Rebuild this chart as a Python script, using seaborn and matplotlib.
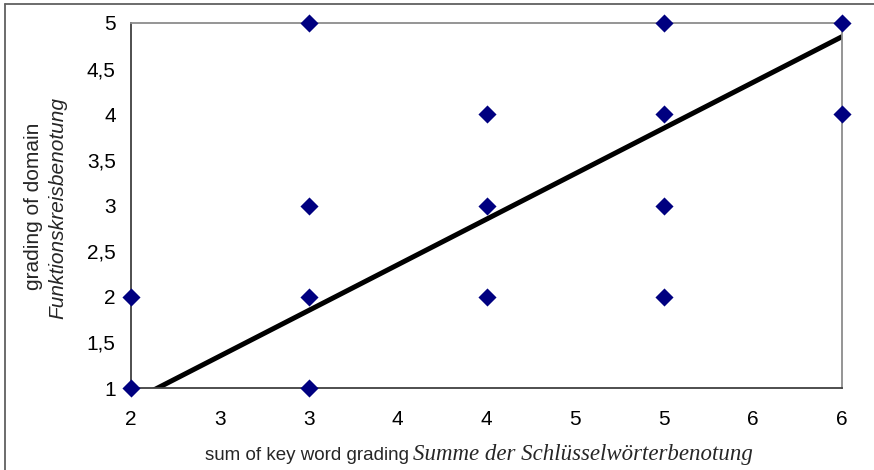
import numpy as np
import pandas as pd
import seaborn as sns
import matplotlib.pyplot as plt
from matplotlib.lines import Line2D

# data
key_word_sum = [2, 2, 3, 3, 3, 3, 4, 4, 4, 5, 5, 5, 5, 6, 6]
domain_grade = [1, 2, 1, 2, 3, 5, 2, 3, 4, 2, 3, 4, 5, 4, 5]
# linear trendline (as drawn by the spreadsheet)
trend_slope = 1.0
trend_intercept = -1.15

x_ticks = [2, 2.5, 3, 3.5, 4, 4.5, 5, 5.5, 6]
x_tick_labels = ["2", "3", "3", "4", "4", "5", "5", "6", "6"]
y_ticks = [1, 1.5, 2, 2.5, 3, 3.5, 4, 4.5, 5]
y_tick_labels = ["1", "1,5", "2", "2,5", "3", "3,5", "4", "4,5", "5"]

df = pd.DataFrame({"x": key_word_sum, "y": domain_grade})

sns.set_style("white")
plt.rcParams["font.family"] = ["Liberation Sans", "DejaVu Sans"]

fig = plt.figure(figsize=(8.74, 4.70), dpi=100)
ax = fig.add_axes([131 / 874, 1 - 388 / 470, 711 / 874, 365 / 470])

# trendline
tx = np.array([x_ticks[0], x_ticks[-1]])
sns.lineplot(x=tx, y=trend_slope * tx + trend_intercept, ax=ax,
             color="black", linewidth=3.6, zorder=2)

sns.scatterplot(data=df, x="x", y="y", ax=ax, marker="D", s=85,
                color="#000080", edgecolor="#000080", linewidth=0,
                clip_on=False, zorder=3)

ax.set_xlim(2, 6)
ax.set_ylim(1, 5)
ax.set_xticks(x_ticks)
ax.set_xticklabels(x_tick_labels)
ax.set_yticks(y_ticks)
ax.set_yticklabels(y_tick_labels)
ax.tick_params(axis="both", labelsize=15, colors="black", direction="out",
               length=5, width=1)
ax.tick_params(axis="x", pad=11, color="#404040")
ax.tick_params(axis="y", pad=6, color="#404040")
ax.set_xlabel("")
ax.set_ylabel("")

for side in ["left", "bottom"]:
    ax.spines[side].set_color("#404040")
    ax.spines[side].set_linewidth(1.3)
for side in ["top", "right"]:
    ax.spines[side].set_color("#8c8c8c")
    ax.spines[side].set_linewidth(1.3)
    ax.spines[side].set_visible(True)

# axis titles
fig.text(34 / 874, 1 - 206 / 470, "grading of domain", rotation=90,
         ha="center", va="center", fontsize=15)
fig.text(58 / 874, 1 - 208 / 470, "Funktionskreisbenotung", rotation=90,
         ha="center", va="center", fontsize=15, style="italic")
fig.text(409 / 874, 1 - 460 / 470, "sum of key word grading",
         ha="right", va="baseline", fontsize=13.5)
fig.text(413 / 874, 1 - 460 / 470, "Summe der Schlüsselwörterbenotung",
         ha="left", va="baseline", fontsize=16.5, style="italic",
         family=["Liberation Serif", "DejaVu Serif"])

# outer frame (top and left edges)
fig.add_artist(Line2D([5 / 874, 1], [1 - 4 / 470, 1 - 4 / 470],
                      transform=fig.transFigure, color="#606060", linewidth=1.3))
fig.add_artist(Line2D([5 / 874, 5 / 874], [0, 1 - 4 / 470],
                      transform=fig.transFigure, color="#606060", linewidth=1.3))

fig.savefig("out.png", dpi=100, facecolor="white")
